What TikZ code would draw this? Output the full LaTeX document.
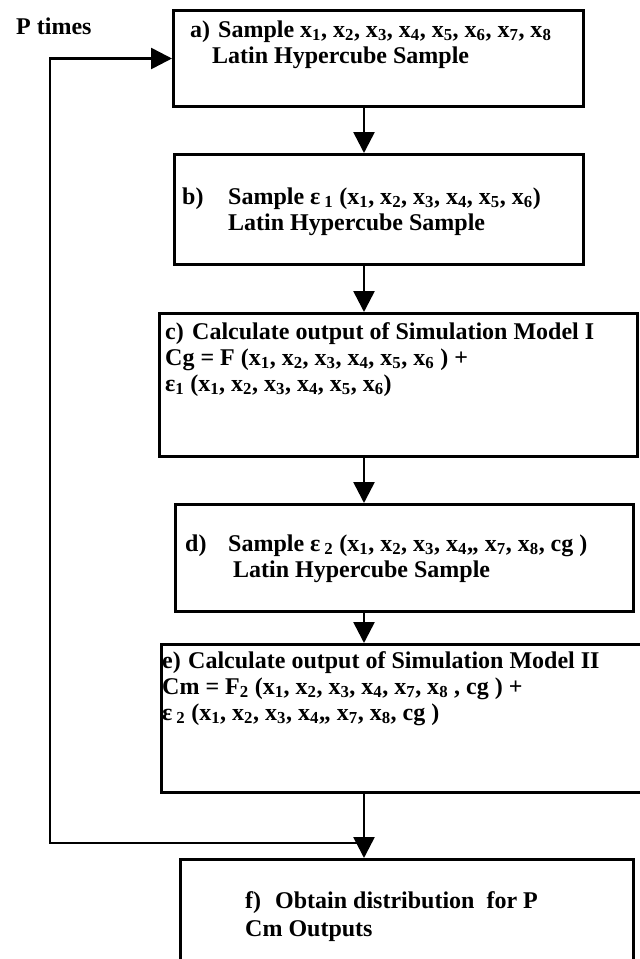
\documentclass[tikz,border=0pt]{standalone}
\usepackage{fontspec}
\setmainfont{Liberation Serif}
\usetikzlibrary{arrows.meta}
\newcommand\xs[1]{x\textsubscript{#1}}
\begin{document}
\begin{tikzpicture}[x=1pt,y=-1pt,
  box/.style={draw=black,line width=3pt,rectangle,inner sep=0pt,anchor=north west},
  txt/.style={anchor=base west,inner sep=0pt,font=\bfseries\fontsize{24}{28}\selectfont},
  conn/.style={draw=black,line width=2.6pt,-{Triangle[width=21pt,length=21pt]}}]
\useasboundingbox (0,0) rectangle (640,959);
\clip (0,0) rectangle (640,959);
% boxes
\node[box,minimum width=410pt,minimum height=96pt]  (boxa) at (172,9) {};
\node[box,minimum width=409pt,minimum height=110pt] (boxb) at (173,153) {};
\node[box,minimum width=478pt,minimum height=143pt] (boxc) at (158,312) {};
\node[box,minimum width=458pt,minimum height=107pt] (boxd) at (174,503) {};
\node[box,minimum width=500pt,minimum height=148pt] (boxe) at (160,643) {};
\node[box,minimum width=453pt,minimum height=140pt] (boxf) at (179,858) {};
% helper coordinates
\coordinate (ax) at (364,0);
\coordinate (lx) at (50,0);
\coordinate (jn) at (364,843);
% connectors
\draw[conn] (ax |- boxa.south) -- (ax |- boxb.north);
\draw[conn] (ax |- boxb.south) -- (ax |- boxc.north);
\draw[conn] (ax |- boxc.south) -- (ax |- boxd.north);
\draw[conn] (ax |- boxd.south) -- (ax |- boxe.north);
\draw[conn] (ax |- boxe.south) -- (ax |- boxf.north);
\draw[conn] (jn) -| (lx |- boxa.west) -- (boxa.west);
% texts
\node[txt] (pt) at (16,34) {P times};
\node[txt] (a1) at (190,37) {\makebox[28pt][l]{a)}Sample \xs1, \xs2, \xs3, \xs4, \xs5, \xs6, \xs7, \xs8};
\node[txt] (a2) at (212,63) {Latin Hypercube Sample};
\node[txt] (b1) at (182,204) {\makebox[46pt][l]{b)}Sample ε\,\textsubscript{1} (\xs1, \xs2, \xs3, \xs4, \xs5, \xs6)};
\node[txt] (b2) at (228,230) {Latin Hypercube Sample};
\node[txt] (c1) at (165,339) {\makebox[27pt][l]{c)}Calculate output of Simulation Model I};
\node[txt] (c2) at (165,365) {Cg = F (\xs1, \xs2, \xs3, \xs4, \xs5, \xs6 ) +};
\node[txt] (c3) at (165,391) {ε\textsubscript{1} (\xs1, \xs2, \xs3, \xs4, \xs5, \xs6)};
\node[txt] (d1) at (185,551) {\makebox[43pt][l]{d)}Sample ε\,\textsubscript{2} (\xs1, \xs2, \xs3, \xs4,, \xs7, \xs8, cg )};
\node[txt] (d2) at (233,577) {Latin Hypercube Sample};
\node[txt] (e1) at (162,668) {\makebox[26pt][l]{e)}Calculate output of Simulation Model II};
\node[txt] (e2) at (162,694) {Cm = F\textsubscript{2} (\xs1, \xs2, \xs3, \xs4, \xs7, \xs8 , cg ) +};
\node[txt] (e3) at (162,720) {ε\,\textsubscript{2} (\xs1, \xs2, \xs3, \xs4,, \xs7, \xs8, cg )};
\node[txt] (f1) at (245,908) {\makebox[30pt][l]{f)}Obtain distribution\ \ for P};
\node[txt] (f2) at (245,936) {Cm Outputs};
\end{tikzpicture}
\end{document}
